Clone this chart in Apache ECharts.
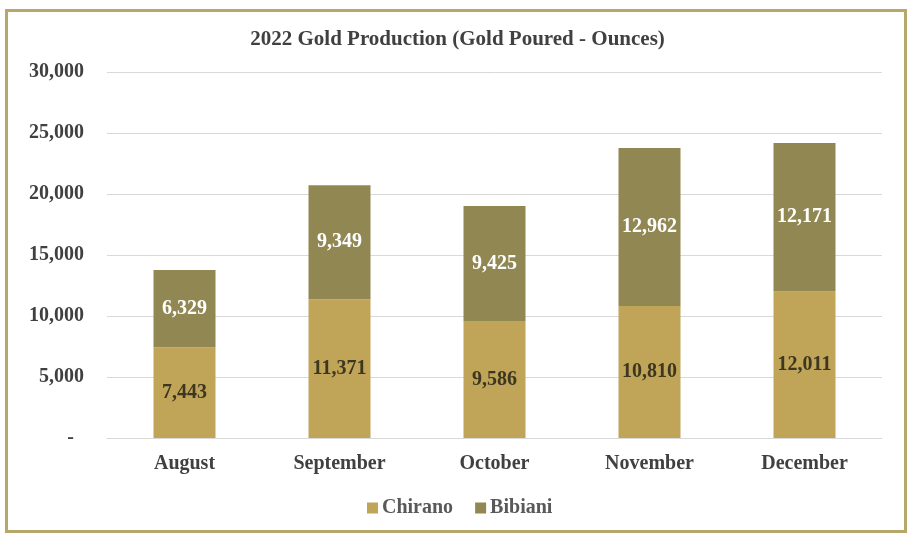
<!DOCTYPE html>
<html lang="en">
  <head>
    <meta charset="UTF-8" />
    <title>2022 Gold Production</title>
    <script src="https://cdn.jsdelivr.net/npm/echarts@6/dist/echarts.min.js"></script>
    <style>
      body {
        margin: 0;
        background: #fff;
      }
      #chart {
        width: 915px;
        height: 549px;
      }
      .frame {
        position: absolute;
        left: 5px;
        top: 9px;
        width: 896px;
        height: 518px;
        border: 3px solid #b6a76b;
        pointer-events: none;
      }
    </style>
  </head>
  <body>
    <div id="chart"></div>
    <div class="frame"></div>

    <script>
      var months = ["August", "September", "October", "November", "December"];
      var chirano = [7443, 11371, 9586, 10810, 12011];
      var bibiani = [6329, 9349, 9425, 12962, 12171];

      var serif = "'Liberation Serif', 'Times New Roman', serif";

      var chart = echarts.init(document.getElementById("chart"));

      function fmt(v) {
        return Number(v).toLocaleString("en-US");
      }

      var option = {
        animation: false,
        title: {
          text: "2022 Gold Production (Gold Poured - Ounces)",
          left: "center",
          top: 24,
          textStyle: {
            fontFamily: serif,
            fontWeight: "bold",
            fontSize: 21,
            color: "#404040",
          },
        },
        legend: {
          data: ["Chirano", "Bibiani"],
          left: 362,
          top: 493,
          icon: "rect",
          itemWidth: 11,
          itemHeight: 11,
          itemGap: 22,
          textStyle: {
            fontFamily: serif,
            fontWeight: "bold",
            fontSize: 20,
            color: "#595959",
            padding: [0, 0, 0, -1],
          },
        },
        grid: {
          left: 107,
          right: 33,
          top: 72,
          bottom: 111,
        },
        xAxis: {
          type: "category",
          data: months,
          axisTick: { show: false },
          axisLine: { lineStyle: { color: "#d9d9d9" } },
          axisLabel: {
            margin: 16,
            fontFamily: serif,
            fontWeight: "bold",
            fontSize: 20,
            color: "#404040",
          },
        },
        yAxis: {
          type: "value",
          min: 0,
          max: 30000,
          interval: 5000,
          axisLine: { show: false },
          axisTick: { show: false },
          splitLine: { lineStyle: { color: "#d9d9d9" } },
          axisLabel: {
            margin: 23,
            fontFamily: serif,
            fontWeight: "bold",
            fontSize: 20,
            color: "#404040",
            formatter: function (v) {
              // accounting style: zero shown as a dash
              return v === 0 ? "-\u00a0\u00a0" : fmt(v);
            },
          },
        },
        series: [
          {
            name: "Chirano",
            type: "bar",
            stack: "total",
            barWidth: "40%",
            data: chirano,
            itemStyle: { color: "#c0a458" },
            label: {
              show: true,
              position: "inside",
              formatter: function (p) {
                return fmt(p.value);
              },
              fontFamily: serif,
              fontWeight: "bold",
              fontSize: 20,
              color: "#3d3720",
            },
          },
          {
            name: "Bibiani",
            type: "bar",
            stack: "total",
            barWidth: "40%",
            data: bibiani,
            itemStyle: { color: "#918753" },
            label: {
              show: true,
              position: "inside",
              formatter: function (p) {
                return fmt(p.value);
              },
              fontFamily: serif,
              fontWeight: "bold",
              fontSize: 20,
              color: "#ffffff",
            },
          },
        ],
      };

      chart.setOption(option);
    </script>
  </body>
</html>
